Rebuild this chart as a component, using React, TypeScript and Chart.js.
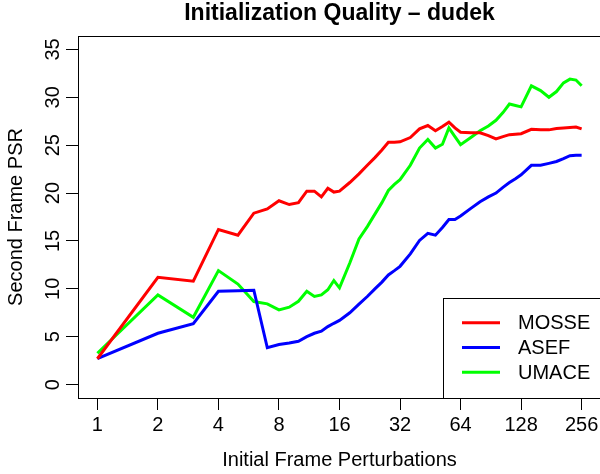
import React, { useEffect, useRef } from "react";
import { Chart, registerables } from "chart.js";

Chart.register(...registerables);

const FONT = '"Liberation Sans", Arial, Helvetica, sans-serif';

const perturbations = [
  1, 2, 3, 4, 5, 6, 7, 8, 9, 10, 11, 12, 13, 14, 15, 16,
  18, 20, 22, 24, 26, 28, 30, 32,
  36, 40, 44, 48, 52, 56, 60, 64,
  72, 80, 88, 96, 104, 112, 120, 128,
  144, 160, 176, 192, 208, 224, 240, 256,
];

const mosse = [
  2.7, 11.2, 10.8, 16.2, 15.6, 17.9, 18.35, 19.2, 18.8, 19.0, 20.2, 20.2, 19.6, 20.5, 20.1, 20.2,
  21.1, 22.0, 22.9, 23.7, 24.5, 25.3, 25.3, 25.35,
  25.8, 26.7, 27.05, 26.5, 26.95, 27.4, 26.8, 26.35,
  26.3, 26.3, 26.0, 25.65, 25.9, 26.1, 26.15, 26.2,
  26.65, 26.6, 26.6, 26.75, 26.8, 26.85, 26.9, 26.7,
];

const asef = [
  2.7, 5.36, 6.37, 9.75, 9.8, 9.85, 3.85, 4.18, 4.35, 4.53, 5.0, 5.36, 5.57, 6.06, 6.4, 6.7,
  7.5, 8.4, 9.2, 10.0, 10.7, 11.45, 11.9, 12.35,
  13.65, 15.05, 15.8, 15.6, 16.4, 17.24, 17.24, 17.6,
  18.4, 19.1, 19.6, 20.0, 20.6, 21.1, 21.5, 21.9,
  22.9, 22.9, 23.1, 23.3, 23.6, 23.9, 23.95, 23.95,
];

const umace = [
  3.27, 9.37, 7.03, 11.9, 10.5, 8.67, 8.43, 7.8, 8.08, 8.7, 9.75, 9.2, 9.37, 9.9, 10.87, 10.1,
  12.7, 15.2, 16.5, 17.8, 19.0, 20.27, 20.9, 21.4,
  22.9, 24.7, 25.6, 24.7, 25.1, 26.8, 25.9, 25.05,
  25.8, 26.5, 27.0, 27.6, 28.4, 29.3, 29.15, 29.0,
  31.2, 30.7, 30.0, 30.6, 31.5, 31.9, 31.8, 31.2,
];

const xTickValues = [1, 2, 4, 8, 16, 32, 64, 128, 256];
const yTickValues = [0, 5, 10, 15, 20, 25, 30, 35];
const seriesNames = ["MOSSE", "ASEF", "UMACE"];
const seriesColors = ["#ff0000", "#0000ff", "#00ff00"];
const seriesValues = [mosse, asef, umace];

const boxAndLegend = {
  id: "boxAndLegend",
  afterDraw(chart: any) {
    const { ctx, chartArea: a } = chart;
    ctx.save();
    ctx.strokeStyle = "#000";
    ctx.lineWidth = 1;
    ctx.strokeRect(Math.round(a.left) + 0.5, Math.round(a.top) + 0.5, a.right - a.left, a.bottom - a.top);
    const w = 158;
    const h = 100;
    const lx = Math.round(a.right - w);
    const ly = Math.round(a.bottom - h);
    ctx.fillStyle = "#fff";
    ctx.fillRect(lx, ly, w, h);
    ctx.strokeRect(lx + 0.5, ly + 0.5, w, h);
    ctx.font = `20px ${FONT}`;
    ctx.textBaseline = "middle";
    ctx.textAlign = "left";
    chart.data.datasets.forEach((ds: any, i: number) => {
      const y = ly + 24.7 + i * 24.8;
      ctx.strokeStyle = ds.borderColor;
      ctx.lineWidth = 3;
      ctx.beginPath();
      ctx.moveTo(lx + 19, y);
      ctx.lineTo(lx + 57, y);
      ctx.stroke();
      ctx.fillStyle = "#000";
      ctx.fillText(ds.label, lx + 75, y + 1);
    });
    ctx.restore();
  },
};

export default function App() {
  const ref = useRef<HTMLCanvasElement | null>(null);

  useEffect(() => {
    if (!ref.current) return;
    const chart = new Chart(ref.current, {
      type: "line",
      data: {
        datasets: seriesNames.map((name, i) => ({
          label: name,
          data: perturbations.map((x, j) => ({ x, y: seriesValues[i][j] })),
          borderColor: seriesColors[i],
          backgroundColor: seriesColors[i],
          borderWidth: 3,
          pointRadius: 0,
          tension: 0,
          fill: false,
        })),
      },
      options: {
        animation: false,
        responsive: false,
        devicePixelRatio: 1,
        layout: { padding: { left: 0, right: 19, top: 0, bottom: 0 } },
        plugins: {
          legend: { display: false },
          tooltip: { enabled: false },
          title: {
            display: true,
            text: "Initialization Quality – dudek",
            fullSize: false,
            color: "#000",
            font: { family: FONT, size: 23, weight: "bold", lineHeight: 1 },
            padding: { top: 2, bottom: 11 },
          },
        },
        scales: {
          x: {
            type: "logarithmic",
            min: Math.pow(2, -0.32),
            max: Math.pow(2, 8.32),
            afterBuildTicks: (s: any) => {
              s.ticks = xTickValues.map((v) => ({ value: v }));
            },
            afterFit: (s: any) => {
              s.height = 76;
            },
            ticks: {
              autoSkip: false,
              minRotation: 0,
              maxRotation: 0,
              padding: 3,
              color: "#000",
              font: { family: FONT, size: 20 },
              callback: (v: any) => String(v),
            },
            grid: { drawOnChartArea: false, drawTicks: true, tickLength: 12, color: "#000", lineWidth: 1 },
            border: { display: true, color: "#000", width: 1 },
            title: {
              display: true,
              text: "Initial Frame Perturbations",
              color: "#000",
              font: { family: FONT, size: 20, lineHeight: 1.2 },
              padding: { top: 0, bottom: 2 },
            },
          },
          y: {
            type: "linear",
            min: -1.4,
            max: 36.4,
            afterBuildTicks: (s: any) => {
              s.ticks = yTickValues.map((v) => ({ value: v }));
            },
            afterFit: (s: any) => {
              s.width = 78;
            },
            ticks: {
              minRotation: 90,
              maxRotation: 90,
              crossAlign: "center",
              padding: 1,
              color: "#000",
              font: { family: FONT, size: 20 },
              callback: (v: any) => String(v),
            },
            grid: { drawOnChartArea: false, drawTicks: true, tickLength: 12, color: "#000", lineWidth: 1 },
            border: { display: true, color: "#000", width: 1 },
            title: {
              display: true,
              text: "Second Frame PSR",
              color: "#000",
              font: { family: FONT, size: 20, lineHeight: 1.2 },
              padding: { top: 4, bottom: 0 },
            },
          },
        },
      } as any,
      plugins: [boxAndLegend],
    });
    return () => chart.destroy();
  }, []);

  return (
    <div style={{ position: "fixed", left: 0, top: 0, width: 600, height: 474, overflow: "hidden", background: "#fff" }}>
      <canvas ref={ref} width={620} height={474} style={{ display: "block", width: 620, height: 474 }} />
    </div>
  );
}
